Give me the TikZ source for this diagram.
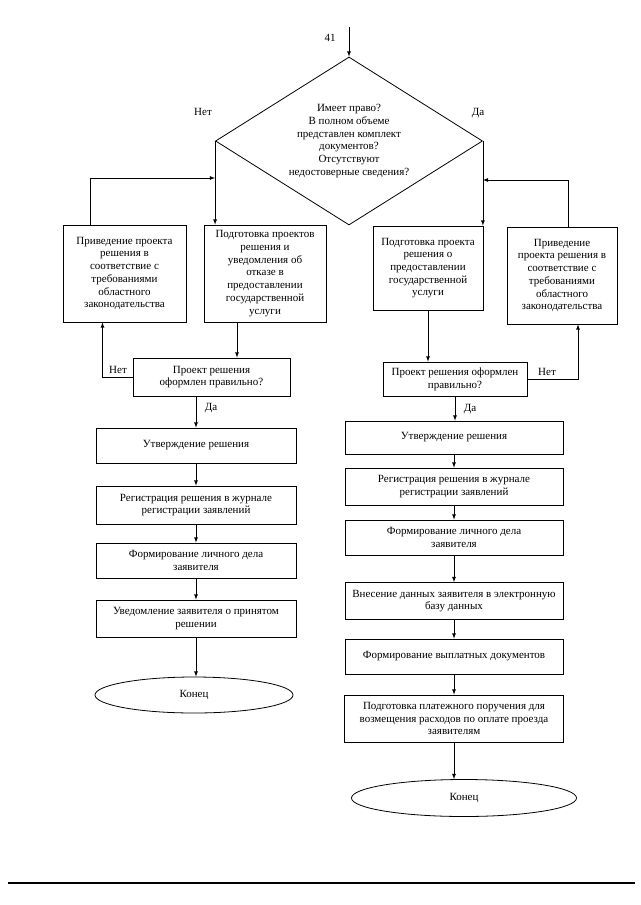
\documentclass[tikz,border=0pt]{standalone}
\usepackage{fontspec}
\setmainfont{Liberation Serif}
\usetikzlibrary{shapes.geometric}

\begin{document}
\begin{tikzpicture}[x=1pt, y=-1pt, >=latex, line width=0.8pt,
    box/.style={draw, rectangle, align=center, inner sep=2pt, font=\fontsize{11}{12.7}\selectfont},
    txt/.style={inner sep=0pt, font=\fontsize{11}{12.7}\selectfont},
    endnode/.style={draw, ellipse, inner sep=0pt, font=\fontsize{11}{12.7}\selectfont}]
    \useasboundingbox (0,0) rectangle (640,905);

    %% Entry and main check
    \node[draw, diamond, aspect=1.6, inner sep=0pt, minimum width=267pt, minimum height=168pt,
          align=center, font=\fontsize{11}{12.7}\selectfont] (ask) at (349,141)
        {Имеет право?\\В полном объеме\\представлен комплект\\документов?\\Отсутствуют\\недостоверные сведения?};
    \coordinate (in41) at (ask.north |- 0,27);
    \node[txt] (num) at (330,38) {41};
    \draw[->] (in41) -- (ask.north);
    \node[txt] (noTop) at (203,112) {Нет};
    \node[txt] (yesTop) at (478,113) {Да};

    %% Left branch (refusal)
    \node[box, minimum width=123pt, minimum height=97pt] (fixL) at (124.5,273.5)
        {Приведение проекта\\решения в\\соответствие с\\требованиями\\областного\\законодательства};
    \node[box, minimum width=122pt, minimum height=97pt] (refuse) at (265,273.5)
        {Подготовка проектов\\решения и\\уведомления об\\отказе в\\предоставлении\\государственной\\услуги};
    \node[box, minimum width=157pt, minimum height=38pt] (checkL) at (211.5,377)
        {Проект решения\\оформлен правильно?};
    \node[box, minimum width=200pt, minimum height=35pt] (approveL) at (196,445.5) {Утверждение решения};
    \node[box, minimum width=200pt, minimum height=38pt] (regL) at (196,505)
        {Регистрация решения в журнале\\регистрации заявлений};
    \node[box, minimum width=200pt, minimum height=35pt] (caseL) at (196,560.5)
        {Формирование личного дела\\заявителя};
    \node[box, minimum width=200pt, minimum height=37pt] (notifyL) at (196,618.5)
        {Уведомление заявителя о принятом\\решении};
    \node[endnode, minimum width=198pt, minimum height=36pt] (endL) at (194,695) {Конец};

    \coordinate (joinL) at (ask.west |- 0,178);
    \coordinate (refOut) at ([xshift=-28pt]refuse.south);
    \draw[->] (ask.west) -- (ask.west |- refuse.north);
    \draw[->] ([xshift=-34pt]fixL.north) |- (joinL);
    \draw[->] (refOut) -- (refOut |- checkL.north);
    \draw[->] (checkL.west) -| ([xshift=-22pt]fixL.south);
    \node[txt] (noL) at (118,370) {Нет};
    \draw[->] (approveL.north |- checkL.south) -- (approveL.north);
    \node[txt] (yesL) at (211,408) {Да};
    \foreach \a/\b in {approveL/regL, regL/caseL, caseL/notifyL}
        \draw[->] (\a.south) -- (\b.north);
    \draw[->] (notifyL.south) -- (notifyL.south |- endL.north);

    %% Right branch (grant)
    \node[box, minimum width=110pt, minimum height=84pt] (grant) at (428,268)
        {Подготовка проекта\\решения о\\предоставлении\\государственной\\услуги};
    \node[box, minimum width=110pt, minimum height=97pt] (fixR) at (562,275.5)
        {Приведение\\проекта решения в\\соответствие с\\требованиями\\областного\\законодательства};
    \node[box, minimum width=144pt, minimum height=34pt] (checkR) at (455,379)
        {Проект решения оформлен\\правильно?};
    \node[box, minimum width=218pt, minimum height=33pt] (approveR) at (454,437.5) {Утверждение решения};
    \node[box, minimum width=218pt, minimum height=37pt] (regR) at (454,486.5)
        {Регистрация решения в журнале\\регистрации заявлений};
    \node[box, minimum width=218pt, minimum height=35pt] (caseR) at (454,537.5)
        {Формирование личного дела\\заявителя};
    \node[box, minimum width=218pt, minimum height=37pt] (dbR) at (454,601)
        {Внесение данных заявителя в электронную\\базу данных};
    \node[box, minimum width=218pt, minimum height=35pt] (payR) at (454,656.5)
        {Формирование выплатных документов};
    \node[box, minimum width=219pt, minimum height=47pt] (orderR) at (454,718.5)
        {Подготовка платежного поручения для\\возмещения расходов по оплате проезда\\заявителям};
    \node[endnode, minimum width=225pt, minimum height=37pt] (endR) at (464,798) {Конец};

    \coordinate (joinR) at (ask.east |- 0,180);
    \draw[->] (ask.east) -- (ask.east |- grant.north);
    \draw[->] ([xshift=6pt]fixR.north) |- (joinR);
    \draw[->] (grant.south) -- (grant.south |- checkR.north);
    \draw[->] (checkR.east) -| ([xshift=16pt]fixR.south);
    \node[txt] (noR) at (547,372) {Нет};
    \draw[->] (checkR.south) -- (checkR.south |- approveR.north);
    \node[txt] (yesR) at (470,409) {Да};
    \foreach \a/\b in {approveR/regR, regR/caseR, caseR/dbR, dbR/payR, payR/orderR}
        \draw[->] (\a.south) -- (\b.north);
    \draw[->] (orderR.south) -- (orderR.south |- endR.north);

    %% Page rule
    \draw[line width=1.2pt] (8,883) -- (635,883);
\end{tikzpicture}
\end{document}
